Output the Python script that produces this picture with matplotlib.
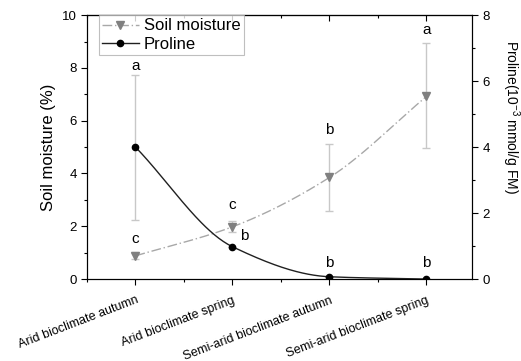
import matplotlib
matplotlib.use("Agg")
import matplotlib.pyplot as plt
import numpy as np
from matplotlib.ticker import MultipleLocator
from matplotlib.lines import Line2D

categories = ["Arid bioclimate autumn", "Arid bioclimate spring",
              "Semi-arid bioclimate autumn", "Semi-arid bioclimate spring"]
soil_moisture = [0.88, 1.98, 3.85, 6.92]
soil_err_low = [0.13, 0.18, 1.28, 1.97]
soil_err_high = [0.14, 0.22, 1.27, 2.02]
soil_letters = ["c", "c", "b", "a"]
proline = [4.0, 0.98, 0.07, 0.0]
proline_err = [2.2, 0.0, 0.0, 0.0]
proline_letters = ["a", "b", "b", "b"]


def pchip(x, y, xs):
    x = np.asarray(x, float)
    y = np.asarray(y, float)
    h = np.diff(x)
    d = np.diff(y) / h
    m = np.zeros_like(y)
    for i in range(1, len(y) - 1):
        if d[i - 1] * d[i] > 0:
            m[i] = 2.0 / (1.0 / d[i - 1] + 1.0 / d[i])
    m[0] = d[0]
    m[-1] = d[-1]
    out = np.empty_like(xs)
    for j, xv in enumerate(xs):
        i = min(np.searchsorted(x, xv, side="right") - 1, len(x) - 2)
        t = (xv - x[i]) / h[i]
        h00 = 2 * t**3 - 3 * t**2 + 1
        h10 = t**3 - 2 * t**2 + t
        h01 = -2 * t**3 + 3 * t**2
        h11 = t**3 - t**2
        out[j] = h00 * y[i] + h10 * h[i] * m[i] + h01 * y[i + 1] + h11 * h[i] * m[i + 1]
    return out


plt.rcParams["font.family"] = ["Liberation Sans", "DejaVu Sans"]
plt.rcParams["mathtext.fontset"] = "custom"
plt.rcParams["mathtext.rm"] = "Liberation Sans"
plt.rcParams["mathtext.it"] = "Liberation Sans:italic"
plt.rcParams["mathtext.default"] = "regular"

fig = plt.figure(figsize=(5.21, 3.61), dpi=100)
ax = fig.add_axes([0.167, 0.227, 0.739, 0.731])
ax2 = ax.twinx()

x = np.arange(len(categories))
xs = np.linspace(0, len(categories) - 1, 200)

gray = "#808080"
errc = "#c8c8c8"

# soil moisture
ax.errorbar(x, soil_moisture, yerr=[soil_err_low, soil_err_high], fmt="none",
            ecolor=errc, elinewidth=1, capsize=3, capthick=1, zorder=2)
ax.plot(xs, pchip(x, soil_moisture, xs), color="#a8a8a8", lw=1,
        ls=(0, (7, 2, 1, 2)), zorder=3)
ax.plot(x, soil_moisture, "v", color=gray, ms=6, zorder=4)

# proline
ax2.errorbar(x, proline, yerr=proline_err, fmt="none", ecolor=errc,
             elinewidth=1, capsize=3, capthick=1, zorder=2)
ax2.plot(xs, pchip(x, proline, xs), color="#202020", lw=1, zorder=3)
ax2.plot(x, proline, "o", color="black", ms=4.5, zorder=4)

# significance letters
soil_letter_y = [1.5, 2.8, 5.65, 9.45]
for xi, yi, s in zip(x, soil_letter_y, soil_letters):
    ax.text(xi, yi, s, ha="center", va="center", fontsize=11)
pro_letter_pos = [(0, 6.45), (1.12, 1.3), (2, 0.5), (3, 0.5)]
for (xi, yi), s in zip(pro_letter_pos, proline_letters):
    ax2.text(xi, yi, s, ha="center", va="center", fontsize=11)

ax.set_xlim(-0.5, 3.47)
ax.set_ylim(0, 10)
ax2.set_ylim(0, 8)
ax.set_xticks(x)
ax.set_xticklabels(categories, rotation=21, ha="right", rotation_mode="anchor",
                   fontsize=9)
ax.xaxis.set_minor_locator(MultipleLocator(0.5))
ax.yaxis.set_major_locator(MultipleLocator(2))
ax.yaxis.set_minor_locator(MultipleLocator(1))
ax2.yaxis.set_major_locator(MultipleLocator(2))
ax2.yaxis.set_minor_locator(MultipleLocator(1))

ax.tick_params(axis="both", which="major", direction="out", length=4,
               labelsize=9.5, width=0.8)
ax.tick_params(axis="both", which="minor", direction="out", length=2, width=0.8)
ax.tick_params(axis="x", which="major", pad=7, labelsize=9)
ax2.tick_params(axis="y", which="major", direction="out", length=4,
                labelsize=9.5, width=0.8)
ax2.tick_params(axis="y", which="minor", direction="out", length=2, width=0.8)

# inward ticks along the top
top = ax.secondary_xaxis("top")
top.set_xticks(x)
top.set_xticklabels([])
top.xaxis.set_minor_locator(MultipleLocator(0.5))
top.tick_params(which="major", direction="in", length=4, width=0.8)
top.tick_params(which="minor", direction="in", length=2, width=0.8)

ax.set_ylabel("Soil moisture (%)", fontsize=12)
fig.text(511 / 521, 1 - 117 / 361, "Proline(10$^{-3}$ mmol/g FM)", fontsize=10,
         rotation=270, ha="center", va="center")

handles = [
    Line2D([], [], color="#a8a8a8", ls=(0, (7, 2, 1, 2)), lw=1, marker="v",
           mfc=gray, mec=gray, ms=6),
    Line2D([], [], color="#202020", lw=1, marker="o", mfc="black", mec="black",
           ms=4.5),
]
leg = ax2.legend(handles, ["Soil moisture", "Proline"], loc="upper left",
                 bbox_to_anchor=(0.03, 1.0), borderaxespad=0, fontsize=12,
                 frameon=True, fancybox=False, handlelength=2.2,
                 handletextpad=0.3, borderpad=0.2, labelspacing=0.2)
leg.get_frame().set_edgecolor("#b0b0b0")
leg.get_frame().set_linewidth(0.8)

fig.savefig("out.png", dpi=100)
